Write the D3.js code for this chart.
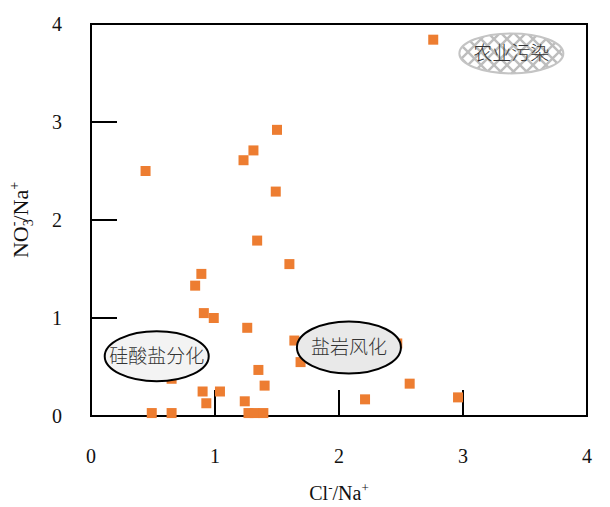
<!DOCTYPE html>
<html>
<head>
<meta charset="utf-8">
<script src="https://cdn.jsdelivr.net/npm/d3@7"></script>
<style>
  body { margin: 0; background: #fff; }
  svg { display: block; font-family: "Liberation Serif", "Times New Roman", serif; }
</style>
</head>
<body>
<div id="chart"></div>
<script>
// Cl-/Na+ vs NO3-/Na+ samples
const clNa = [2.76, 1.50, 0.44, 1.31, 1.23, 1.49, 1.34, 1.60, 0.89, 0.84, 0.91, 0.99, 1.26,
    1.64, 2.47, 1.69, 1.35, 0.65, 2.57, 1.40, 0.90, 1.04, 0.93, 1.24, 2.21, 2.96,
    0.49, 0.65, 1.27, 1.32, 1.39];
const no3Na = [3.84, 2.92, 2.50, 2.71, 2.61, 2.29, 1.79, 1.55, 1.45, 1.33, 1.05, 1.00, 0.90,
    0.77, 0.74, 0.55, 0.47, 0.38, 0.33, 0.31, 0.25, 0.25, 0.13, 0.15, 0.17, 0.19,
    0.03, 0.03, 0.03, 0.03, 0.03];

const xTicks = [0, 1, 2, 3, 4];
const yTicks = [0, 1, 2, 3, 4];

// source labels (centre in data units)
const zoneNames = ["硅酸盐分化", "盐岩风化", "农业污染"];
const zoneX = [0.53, 2.08, 3.39];
const zoneY = [0.61, 0.70, 3.70];

const width = 610, height = 507;
const margin = { top: 24, right: 23, bottom: 91, left: 91 };

const svg = d3.select("#chart").append("svg")
    .attr("width", width)
    .attr("height", height);

const x = d3.scaleLinear().domain([0, 4]).range([margin.left, width - margin.right]);
const y = d3.scaleLinear().domain([0, 4]).range([height - margin.bottom, margin.top]);

// hatch pattern for the agricultural zone
const defs = svg.append("defs");
const pat = defs.append("pattern")
    .attr("id", "hatch")
    .attr("patternUnits", "userSpaceOnUse")
    .attr("width", 13).attr("height", 13);
pat.append("rect").attr("width", 13).attr("height", 13).attr("fill", "#fff");
pat.append("path").attr("d", "M0,0L13,13M13,0L0,13M-1,12L1,14M12,-1L14,1")
    .attr("stroke", "#bdbdbd").attr("stroke-width", 2.4);

// frame
svg.append("rect")
    .attr("x", x(0)).attr("y", y(4))
    .attr("width", x(4) - x(0)).attr("height", y(0) - y(4))
    .attr("fill", "none").attr("stroke", "#000").attr("stroke-width", 2);

// inner ticks
svg.append("g").selectAll("line").data(yTicks.slice(1, -1)).enter().append("line")
    .attr("x1", x(0)).attr("x2", x(0) + 26)
    .attr("y1", d => y(d)).attr("y2", d => y(d))
    .attr("stroke", "#000").attr("stroke-width", 2);
svg.append("g").selectAll("line").data(xTicks.slice(1, -1)).enter().append("line")
    .attr("x1", d => x(d)).attr("x2", d => x(d))
    .attr("y1", y(0)).attr("y2", y(0) - 26)
    .attr("stroke", "#000").attr("stroke-width", 2);

// tick labels
svg.append("g").selectAll("text").data(xTicks).enter().append("text")
    .attr("x", d => x(d)).attr("y", y(0) + 47)
    .attr("text-anchor", "middle")
    .attr("font-size", 20).attr("fill", "#111")
    .text(d => d);
svg.append("g").selectAll("text").data(yTicks).enter().append("text")
    .attr("x", x(0) - 34).attr("y", d => y(d) + 7)
    .attr("text-anchor", "middle")
    .attr("font-size", 20).attr("fill", "#111")
    .text(d => d);

// axis titles
const xt = svg.append("text")
    .attr("x", x(2)).attr("y", 500)
    .attr("text-anchor", "middle").attr("font-size", 20).attr("fill", "#111");
xt.append("tspan").text("Cl");
xt.append("tspan").attr("font-size", 13).attr("dy", -8).text("-");
xt.append("tspan").attr("dy", 8).text("/Na");
xt.append("tspan").attr("font-size", 13).attr("dy", -8).text("+");

const yt = svg.append("text")
    .attr("transform", `translate(28,${y(2)}) rotate(-90)`)
    .attr("text-anchor", "middle").attr("font-size", 22).attr("fill", "#111");
yt.append("tspan").text("NO");
yt.append("tspan").attr("font-size", 14).attr("dy", 5).text("3");
yt.append("tspan").attr("font-size", 14).attr("dx", -7).attr("dy", -15).text("-");
yt.append("tspan").attr("dy", 10).text("/Na");
yt.append("tspan").attr("font-size", 14).attr("dy", -9).text("+");

// points
svg.append("g").selectAll("rect").data(clNa).enter().append("rect")
    .attr("x", (d, i) => x(d) - 5)
    .attr("y", (d, i) => y(no3Na[i]) - 5)
    .attr("width", 10).attr("height", 10)
    .attr("fill", "#ED7D31");

// zones
const zoneFill = ["#f3f3f3", "#e9e9e9", "url(#hatch)"];
const zoneStroke = ["#000", "#000", "#c4c4c4"];
const zoneRx = [52, 52, 52];
const zoneRy = [25, 26, 20];
const zone = svg.append("g").selectAll("g").data(zoneNames).enter().append("g");
zone.append("ellipse")
    .attr("cx", (d, i) => x(zoneX[i]))
    .attr("cy", (d, i) => y(zoneY[i]))
    .attr("rx", (d, i) => zoneRx[i])
    .attr("ry", (d, i) => zoneRy[i])
    .attr("fill", (d, i) => zoneFill[i])
    .attr("stroke", (d, i) => zoneStroke[i])
    .attr("stroke-width", 2);
zone.append("text")
    .attr("x", (d, i) => x(zoneX[i]))
    .attr("y", (d, i) => y(zoneY[i]) + 7)
    .attr("text-anchor", "middle")
    .attr("font-family", "'Noto Sans CJK SC', sans-serif")
    .attr("font-weight", 300)
    .attr("font-size", 19).attr("fill", "#333")
    .text(d => d);
</script>
</body>
</html>
